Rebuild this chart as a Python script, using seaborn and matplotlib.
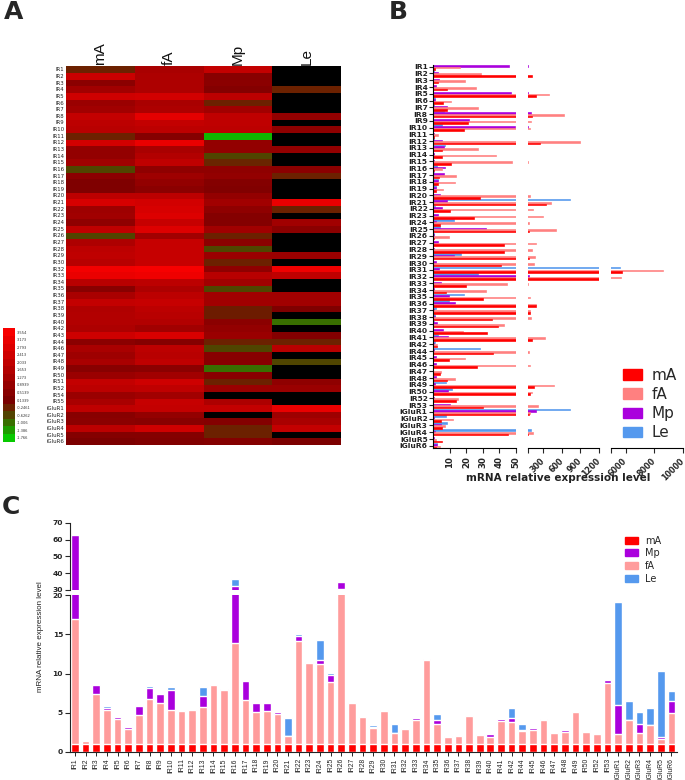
import numpy as np
import pandas as pd
import matplotlib
matplotlib.use('Agg')
import matplotlib.pyplot as plt
from matplotlib.colors import LinearSegmentedColormap
from matplotlib.patches import Patch
from matplotlib.transforms import ScaledTranslation
import seaborn as sns

# gene names, panel A has a slightly different set than B/C
genes_a = ['IR%d' % i for i in range(1, 31)] + ['IR32', 'IR33', 'IR34', 'IR35', 'IR36', 'IR37', 'IR38', 'IR39', 'IR40',
           'IR42', 'IR43', 'IR44', 'IR46', 'IR47', 'IR48', 'IR49', 'IR50', 'IR51', 'IR52', 'IR54', 'IR55',
           'iGluR1', 'iGluR2', 'iGluR3', 'iGluR4', 'iGluR5', 'iGluR6']
genes_b = ['IR%d' % i for i in range(1, 43)] + ['IR44', 'IR45', 'IR46', 'IR47', 'IR48', 'IR49', 'IR50', 'IR52', 'IR53',
           'iGluR1', 'iGluR2', 'iGluR3', 'iGluR4', 'iGluR5', 'iGluR6']
tissues = ['mA', 'fA', 'Mp', 'Le']

# panel A, log values, nan = black cell
n = np.nan
heat_ma = [-.25, 2.3, .6, 1.2, 2.4, 1.0, 1.2, 2.1, 1.9, 1.8, -.25, 2.5, .8, .8, 1.2, -.65, .6, .25, .25, 1.9, 2.65, 1.1, 1.2, .7, 2.0, -.65,
           1.5, 1.9, 2.0, 1.8, 3.4, 3.17, 1.8, .5, 1.4, 2.1, 1.6, 1.65, 1.65, 1.5, 2.4, .6, 1.4, 1.1, 1.4, .5, 1.0, 2.1, 1.9, 1.0, 1.4,
           2.0, .5, .6, 1.9, .4, .2]
heat_fa = [1.4, 1.5, 1.5, 1.5, 2.5, 1.4, 1.5, 3.0, 2.1, 1.9, .4, 3.17, 1.4, 1.65, 2.0, .7, 1.1, .8, .6, 1.9, 2.5, 2.65, 2.8, 2.2, 2.8, 1.2,
           2.2, 2.2, 2.2, 2.2, 3.5, 3.3, 1.9, 1.5, 1.9, 2.2, 1.9, 1.8, 1.65, 1.2, 2.7, .4, 1.9, 1.8, 2.0, .6, 1.2, 2.4, 2.0, 1.2, 2.2,
           2.1, .8, .5, 2.4, .4, .3]
heat_mp = [2.1, .5, .6, .4, 1.9, -.25, 1.2, 2.0, 2.0, 1.9, -1.6, .8, .8, -.65, -.3, .7, .8, .4, .3, .8, 1.2, .7, .4, .4, 1.2, -.25,
           .6, -.65, 1.0, -.25, .7, 1.8, 1.2, -.65, 1.2, 1.2, -.2, -.2, .6, .8, 1.0, -.25, -.65, .5, .5, -1.0, .5, -.25, 1.0, n, 1.5,
           2.1, n, .4, -.25, -.25, .4]
heat_le = [n, n, n, -.25, n, n, n, .8, n, .7, n, n, .8, n, n, .6, -.25, n, n, n, 3.17, -.25, n, 1.2, .6, n,
           n, n, 1.0, n, 3.3, 2.0, n, n, 1.2, 1.2, .25, n, -1.0, n, .4, -.25, 1.8, n, -.65, n, n, .7, 1.0, n, n,
           3.17, 1.1, 1.4, 2.1, n, .2]
cbar_values = [3.554, 3.173, 2.793, 2.413, 2.033, 1.653, 1.273, 0.8939, 0.5139, 0.1339, -0.2461, -0.6262, -1.006, -1.386, -1.766]

# panel B, bar lengths
b_ma = [1, 110, 3, 8, 175, 5.8, 8.5, 110, 21, 18.5, .6, 245, 5.4, 5, 10.7, .3, 3.4, 2.8, 1.6, 28, 337, 10, 24.6, 4, 67, .6, 42.5, 42.7, 67, 41,
        5746, 1200, 19.8, 7.5, 30, 180, 89, 35.7, 39, 32.5, 116, 2.4, 36, 9.7, 26.2, 4.2, 8.5, 143, 78, 14, 30, 67, 4.4, 5.2, 45.4, 5.2, 1.6]
b_fa = [16, 29, 19.4, 26, 397, 10.5, 27, 635, 105, 83, 2.6, 894, 27, 38, 47.6, 5.4, 13.7, 13, 6, 83, 424, 137, 300, 62, 505, 9.7, 186, 116, 164, 148,
        8588, 5700, 44.6, 32, 89, 180, 89, 100, 42.7, 18, 321, 2.4, 67, 19, 78, 4.4, 13.3, 478, 110, 15, 218, 78, 11.7, 7, 127, 1.5, 4]
b_mp = [45.8, 2.6, 3.4, 1.6, 47, 1, 8, 100, 21.8, 49.4, .3, 5, 6.7, .3, .5, 7, 6.7, 3, 1.4, 4, 8, 5.4, 2.6, 1.4, 32, .6, 3, .3, 12.5, 1.4,
        3.6, 67, 4.4, .3, 9.5, 13, .4, 1, 2, 5.6, 8.9, .3, .3, 1.8, 1.4, 0, 1.4, 1, 9, .3, 10, 175, .3, 4.6, 1, .6, 2]
b_le = [0, .5, 0, 0, 0, 1, .3, 6.5, 0, 5.5, 0, .5, 7, 0, 0, 2, .3, 3, 1.4, 0, 732, 1, 0, 12.5, 4.2, .5, 0, 0, 16.5, 0,
        5606, 27, 0, 0, 18.3, 9.7, 1.4, 1, .5, 0, 2.8, 1.2, 28.2, 0, 0, 0, 0, 7.5, 11.3, 0, 0, 732, 7.5, 8, 105, 0, 2]

# panel C, top of each stacked segment
c_ma = [1] * 57
c_fa = [17, 1.35, 7.4, 5.4, 4.2, 2.95, 4.7, 6.75, 6.3, 5.35, 5.2, 5.4, 5.7, 8.5, 7.85, 13.9, 6.65, 5.15, 5.2, 4.9, 2.1, 14.2, 11.3, 11.25, 8.95, 30.8,
        6.2, 4.45, 3.0, 5.25, 2.45, 2.9, 4.05, 11.7, 3.6, 1.95, 2.05, 4.6, 2.15, 1.95, 4.0, 3.8, 2.7, 2.85, 4.05, 2.4, 2.55, 5.05, 2.5, 2.3, 8.75,
        2.3, 4.1, 2.45, 3.4, 1.7, 4.95]
c_mp = [62.7, 1.4, 8.6, 5.6, 4.45, 3.15, 5.9, 8.2, 7.4, 7.95, 5.2, 5.4, 7.1, 8.6, 8.05, 32.2, 9.05, 6.3, 6.2, 5.1, 2.1, 14.85, 11.4, 11.7, 9.85, 34.8,
        6.25, 4.45, 3.2, 5.3, 2.45, 2.9, 4.35, 11.9, 4.05, 2.05, 2.05, 4.65, 2.3, 2.35, 4.2, 4.35, 2.75, 3.0, 4.15, 2.45, 2.75, 5.1, 2.7, 2.3, 9.15,
        6.0, 4.1, 3.55, 3.4, 1.95, 6.55]
c_le = [62.7, 1.4, 8.6, 5.9, 4.5, 3.2, 5.95, 8.45, 7.45, 8.25, 5.2, 5.4, 8.35, 8.6, 8.05, 36.3, 9.2, 6.35, 6.25, 5.1, 4.3, 15, 11.45, 14.35, 10.1, 34.8,
        6.25, 4.45, 3.4, 5.3, 3.6, 2.9, 4.35, 11.9, 4.85, 2.05, 2.05, 4.65, 2.3, 2.35, 4.2, 5.65, 3.6, 3.05, 4.15, 2.45, 2.75, 5.1, 2.8, 2.3, 9.15,
        19.1, 6.55, 5.15, 5.6, 10.35, 7.75]

sns.set_theme(style='ticks')
plt.rcParams['font.family'] = ['DejaVu Sans']
W, H = 685, 780
fig = plt.figure(figsize=(W / 100, H / 100), dpi=100)
RED, PINK_B, PINK_C, PURPLE, BLUE = '#ff0000', '#ff8080', '#ff9c9c', '#aa00dd', '#5599ee'


def px_axes(x0, y0, x1, y1):
    return fig.add_axes([x0 / W, 1 - y1 / H, (x1 - x0) / W, (y1 - y0) / H])


# A: heatmap
cmap = LinearSegmentedColormap.from_list('gbr', [(0, '#00e000'), (.075, '#14aa00'), (.145, '#327d00'), (.215, '#4b4b00'),
                                                 (.285, '#692800'), (.355, '#780000'), (1, '#ff0000')])
heat = pd.DataFrame({'mA': heat_ma, 'fA': heat_fa, 'Mp': heat_mp, 'Le': heat_le}, index=genes_a)
ax = px_axes(66, 66.5, 341, 445)
ax.set_facecolor('black')
sns.heatmap(heat, ax=ax, cmap=cmap, vmin=-1.956, vmax=3.744, cbar=False, xticklabels=True, yticklabels=True)
ax.xaxis.tick_top()
ax.tick_params(length=0, pad=1)
ax.set_xticklabels(tissues, rotation=90, fontsize=11, family='Liberation Sans', color='#111111')
ax.set_yticklabels(genes_a, rotation=0, fontsize=3.9, color='#222222')

cax = px_axes(2.5, 328.5, 15, 441.5)
sns.heatmap(np.array(cbar_values)[:, None], ax=cax, cmap=cmap, vmin=-1.956, vmax=3.744, cbar=False, xticklabels=False,
            yticklabels=['%g' % v for v in cbar_values])
cax.yaxis.tick_right()
cax.tick_params(length=0, pad=1)
cax.set_yticklabels(['%g' % v for v in cbar_values], rotation=0, fontsize=2.6, color='#333333')

# B: broken horizontal bars
long_b = pd.DataFrame({'gene': genes_b, 'Le': b_le, 'Mp': b_mp, 'fA': b_fa, 'mA': b_ma}).melt('gene', var_name='tissue', value_name='level')
pal_b = {'mA': RED, 'fA': PINK_B, 'Mp': PURPLE, 'Le': BLUE}
spans = [(433.3, 516, 0, 50), (528, 599, 51, 1200), (611.3, 682.7, 5000, 10000)]
ticks = [[10, 20, 30, 40, 50], [51, 300, 600, 900, 1200], [5000, 6000, 8000, 10000]]
shift_left = ScaledTranslation(-3 / 100, 0, fig.dpi_scale_trans)
for i, (x0, x1, lo, hi) in enumerate(spans):
    bx = px_axes(x0, 65, x1, 448.5)
    sns.barplot(data=long_b, y='gene', x='level', hue='tissue', hue_order=['Le', 'Mp', 'fA', 'mA'], palette=pal_b,
                order=genes_b, orient='y', width=.95, saturation=1, legend=False, errorbar=None, ax=bx)
    # bars are under 2 px tall, thicken them a little so none vanish
    for p in bx.patches:
        p.set_edgecolor(p.get_facecolor())
        p.set_linewidth(.45)
    bx.set_xlim(lo, hi)
    bx.set_ylim(56.4, -.25)
    bx.set_xlabel('')
    bx.set_ylabel('')
    bx.set_xticks(ticks[i])
    sns.despine(ax=bx, left=i > 0)
    bx.tick_params(axis='x', length=3.5, width=.8, pad=2)
    if i == 0:
        bx.set_xticklabels([str(t) for t in ticks[i]], rotation=90, fontsize=6.2, fontweight='bold')
        bx.set_yticks(range(len(genes_b)))
        bx.set_yticklabels(genes_b, fontsize=5.4, fontweight='bold', color='#222222')
        bx.tick_params(axis='y', length=3, width=.8, pad=1)
    else:
        labels = [''] + [str(t) for t in ticks[i][1:]]
        bx.set_xticklabels(labels, rotation=45, ha='right', rotation_mode='anchor', fontsize=5.8, fontweight='bold')
        # tick_params resets label transforms, so this has to come after it
        for lab in bx.get_xticklabels():
            lab.set_transform(lab.get_transform() + shift_left)
        bx.set_yticks([])
    for s in bx.spines.values():
        s.set_linewidth(.8)
        s.set_color('black')
fig.text(558 / W, 1 - 478 / H, 'mRNA relative expression level', ha='center', va='center', fontsize=7.5, fontweight='bold', color='#222222')
fig.legend(handles=[Patch(color=pal_b[t], label=t) for t in tissues], loc='upper left', bbox_to_anchor=(623 / W, 1 - 368 / H), frameon=False,
           fontsize=11, handlelength=1.24, handleheight=.7, labelspacing=.27, handletextpad=.65, borderpad=0, borderaxespad=0)

# C: stacked bars, drawn back to front, with a broken y axis
top = px_axes(70, 522.7, 677, 590)
low = px_axes(70, 595.3, 677, 752)
for a in (top, low):
    sns.barplot(x=genes_b, y=c_le, color=BLUE, width=.72, saturation=1, ax=a)
    sns.barplot(x=genes_b, y=c_mp, color=PURPLE, width=.72, saturation=1, ax=a)
    sns.barplot(x=genes_b, y=c_fa, color=PINK_C, width=.72, saturation=1, ax=a)
    sns.barplot(x=genes_b, y=c_ma, color=RED, width=.72, saturation=1, ax=a)
    a.set_xlim(-.47, 56.53)
    sns.despine(ax=a)
    for s in a.spines.values():
        s.set_linewidth(.8)
        s.set_color('#222222')
top.set_ylim(30, 70)
top.set_yticks([30, 40, 50, 60, 70])
top.set_xticks([])
top.spines['bottom'].set_visible(False)
low.set_ylim(0, 20)
low.set_yticks([0, 5, 10, 15, 20])
low.set_xticks(range(len(genes_b)))
low.set_xticklabels(genes_b, rotation=90, fontsize=4.9, family='Liberation Sans', color='#222222')
low.tick_params(axis='x', length=3, width=.7, pad=1.5)
for a in (top, low):
    a.tick_params(axis='y', length=3.5, width=.8, pad=1.5, labelsize=5.4)
    for lab in a.get_yticklabels():
        lab.set_fontweight('bold')
fig.text(40.5 / W, 1 - 637 / H, 'mRNA relative expression level', rotation=90, ha='center', va='center', fontsize=5.8, family='Liberation Sans', color='#222222')
fig.legend(handles=[Patch(color=c, label=t) for t, c in [('mA', RED), ('Mp', PURPLE), ('fA', PINK_C), ('Le', BLUE)]], loc='upper left',
           bbox_to_anchor=(625 / W, 1 - 535.5 / H), frameon=False, fontsize=7, handlelength=1.34, handleheight=.7, labelspacing=.28,
           handletextpad=.72, borderpad=0, borderaxespad=0)

# panel letters
for letter, x, y in [('A', 14, 12), ('B', 398, 12), ('C', 11, 507)]:
    fig.text(x / W, 1 - y / H, letter, ha='center', va='center', fontsize=18, fontweight='bold')

fig.savefig('out.png', dpi=100)
